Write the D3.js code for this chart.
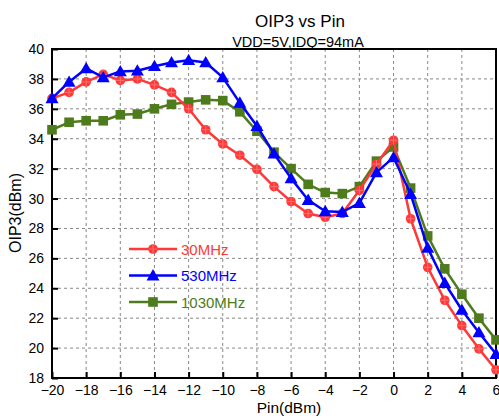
<!DOCTYPE html>
<html><head><meta charset="utf-8">
<script src="https://cdn.jsdelivr.net/npm/d3@7"></script>
<style>body{margin:0;background:#fff;}svg{display:block;font-family:Arial,"Liberation Sans",sans-serif;}</style>
</head><body>
<svg id="c" width="499" height="418"></svg>
<script>
const pin = [-20,-19,-18,-17,-16,-15,-14,-13,-12,-11,-10,-9,-8,-7,-6,-5,-4,-3,-2,-1,0,1,2,3,4,5,6];
const s30 = [36.7,37.1,37.8,38.3,37.9,38.0,37.6,37.1,36.0,34.6,33.65,32.9,31.95,30.8,29.8,29.0,28.75,29.0,30.55,32.3,33.9,28.65,25.4,23.2,21.5,19.95,18.55];
const s530 = [36.7,37.8,38.7,38.1,38.5,38.55,38.85,39.1,39.25,39.1,38.1,36.4,34.85,33.0,31.35,29.9,29.15,29.1,29.7,31.75,32.75,30.3,26.7,24.35,22.55,21.05,19.6];
const s1030 = [34.6,35.1,35.2,35.2,35.6,35.65,36.0,36.3,36.45,36.6,36.55,35.8,34.5,33.1,32.0,30.95,30.4,30.33,30.8,32.5,33.45,30.7,27.5,25.3,23.6,22.0,20.55];
const seriesNames = ["30MHz","530MHz","1030MHz"];
const xTicks = [-20,-18,-16,-14,-12,-10,-8,-6,-4,-2,0,2,4,6];
const yTicks = [18,20,22,24,26,28,30,32,34,36,38,40];
const title = "OIP3 vs Pin";
const subtitle = "VDD=5V,IDQ=94mA";
const xLabel = "Pin(dBm)";
const yLabel = "OIP3(dBm)";

const svg = d3.select("#c");
const L = 52, R = 496, T = 49, B = 378;
const x = d3.scaleLinear().domain([-20, 6]).range([L, R]);
const y = d3.scaleLinear().domain([18, 40]).range([B, T]);

// grid
const g = svg.append("g");
g.selectAll("line.vx").data(xTicks.slice(1, -1)).enter().append("line")
  .attr("x1", d => x(d)).attr("x2", d => x(d)).attr("y1", T).attr("y2", B)
  .attr("stroke", "#888").attr("stroke-width", 1).attr("stroke-dasharray", "3,3");
g.selectAll("line.hy").data(yTicks.slice(1, -1)).enter().append("line")
  .attr("y1", d => y(d)).attr("y2", d => y(d)).attr("x1", L).attr("x2", R)
  .attr("stroke", "#888").attr("stroke-width", 1).attr("stroke-dasharray", "3,3");

// axes
const xAxis = d3.axisBottom(x).tickValues(xTicks).tickSizeInner(-6).tickSizeOuter(0).tickPadding(7);
const yAxis = d3.axisLeft(y).tickValues(yTicks).tickSizeInner(-6).tickSizeOuter(0).tickPadding(8);
const gx = svg.append("g").attr("transform", `translate(0,${B})`).call(xAxis);
const gy = svg.append("g").attr("transform", `translate(${L},0)`).call(yAxis);
[gx, gy].forEach(a => {
  a.select(".domain").remove();
  a.selectAll(".tick line").attr("stroke", "#000").attr("stroke-width", 2);
  a.selectAll(".tick text").attr("font-size", 14).attr("fill", "#000").attr("font-family", "Arial, 'Liberation Sans', sans-serif");
});
gx.selectAll(".tick text").attr("dy", "0.71em");

// frame
svg.append("rect").attr("x", L).attr("y", T).attr("width", R - L).attr("height", B - T)
  .attr("fill", "none").attr("stroke", "#000").attr("stroke-width", 2);

const colors = ["#ff3838", "#0000ff", "#4e7b1c"];
const data = [s30, s530, s1030];
const line = d3.line().x(d => x(d[0])).y(d => y(d[1]));

function marker(sel, i, cx, cy) {
  if (i === 0) {
    sel.append("circle").attr("cx", cx).attr("cy", cy).attr("r", 4.8).attr("fill", colors[0]);
    sel.append("path").attr("d", `M${cx-4},${cy}H${cx+4}M${cx},${cy-4}V${cy+4}`).attr("stroke", "#ff7070").attr("stroke-width", 1);
  } else if (i === 1) {
    const s = 6.5;
    sel.append("path").attr("d", `M${cx},${cy-s}L${cx+s},${cy+s*0.75}L${cx-s},${cy+s*0.75}Z`).attr("fill", colors[1]);
  } else {
    const s = 4.8;
    sel.append("rect").attr("x", cx - s).attr("y", cy - s).attr("width", 2*s).attr("height", 2*s).attr("fill", colors[2]);
  }
}

const order = [2, 0, 1];
const plot = svg.append("g");
order.forEach(i => {
  const pts = pin.map((p, k) => [p, data[i][k]]);
  const gg = plot.append("g");
  gg.append("path").datum(pts).attr("d", line).attr("fill", "none")
    .attr("stroke", colors[i]).attr("stroke-width", 2.5).attr("stroke-linejoin", "round");
  pts.forEach(p => marker(gg, i, x(p[0]), y(p[1])));
});

// legend
const legY = [249, 275.5, 302];
seriesNames.forEach((n, i) => {
  const lg = svg.append("g");
  lg.append("line").attr("x1", 129).attr("x2", 177).attr("y1", legY[i]).attr("y2", legY[i])
    .attr("stroke", colors[i]).attr("stroke-width", 2.5);
  marker(lg, i, 153, legY[i]);
  lg.append("text").attr("x", 181).attr("y", legY[i] + 5.5).attr("font-size", 15).attr("fill", colors[i]).text(n);
});

// titles
svg.append("text").attr("x", 300).attr("y", 27).attr("text-anchor", "middle").attr("font-size", 17).text(title);
svg.append("text").attr("x", 298).attr("y", 47).attr("text-anchor", "middle").attr("font-size", 14.5).text(subtitle);
svg.append("text").attr("x", 289).attr("y", 413).attr("text-anchor", "middle").attr("font-size", 15.5).text(xLabel);
svg.append("text").attr("transform", "translate(21,213) rotate(-90)").attr("text-anchor", "middle").attr("font-size", 16).text(yLabel);
</script>
</body></html>
